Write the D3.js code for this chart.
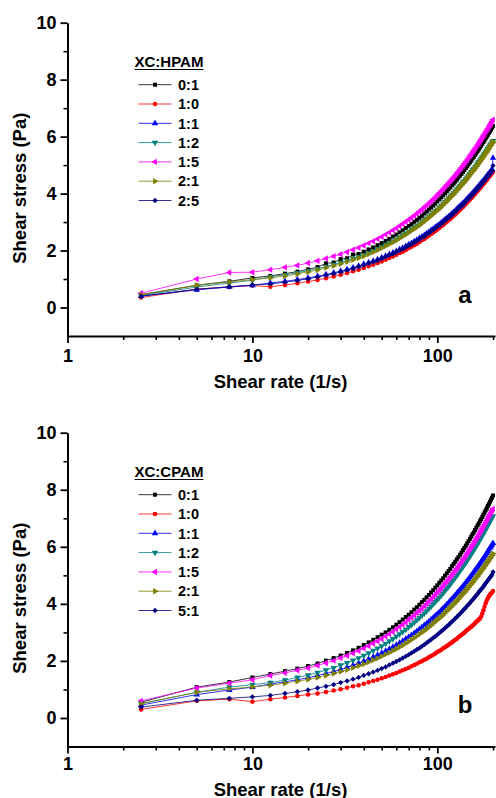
<!DOCTYPE html>
<html>
<head>
<meta charset="utf-8">
<script src="https://cdn.jsdelivr.net/npm/d3@7"></script>
<style>
  body { margin: 0; background: #fff; }
  svg text { font-family: "Liberation Sans", Arial, Helvetica, sans-serif; font-weight: bold; fill: #000; }
</style>
</head>
<body>
<svg id="chart"></svg>
<script>
// shear rate (1/s), same for every series
const shearRate = [2.5,5,7.5,10,12.5,15,17.5,20,22.5,25,27.5,30,32.5,35,37.5,40,42.5,45,47.5,50,
  52.5,55,57.5,60,62.5,65,67.5,70,72.5,75,77.5,80,82.5,85,87.5,90,92.5,95,97.5,100,
  102.5,105,107.5,110,112.5,115,117.5,120,122.5,125,127.5,130,132.5,135,137.5,140,142.5,145,147.5,150,
  152.5,155,157.5,160,162.5,165,167.5,170,172.5,175,177.5,180,182.5,185,187.5,190,192.5,195,197.5,200];

// panel a: XC:HPAM, shear stress (Pa)
const hpam_01 = [0.45,0.78,0.92,1.04, 1.11,1.19,1.26,1.34,1.42,1.55,1.58,1.70,1.73,1.86, 1.88,1.96,2.04,2.11,2.19,2.26,2.34,2.41,2.49,2.56,
  2.64,2.71,2.79,2.86,2.93,3.01,3.08,3.15,3.22,3.30, 3.37,3.44,3.51,3.58,3.65,3.73,3.80,3.87,3.94,4.01,
  4.08,4.15,4.22,4.29,4.35,4.42,4.49,4.56,4.63,4.69, 4.76,4.83,4.90,4.96,5.03,5.10,5.16,5.23,5.29,5.36,
  5.42,5.49,5.55,5.62,5.68,5.75,5.81,5.87,5.94,6.00, 6.06,6.13,6.19,6.25,6.31,6.37];
const hpam_10 = [0.35,0.65,0.72,0.77, 0.73,0.79,0.85,0.91,0.97,1.03,1.09,1.15,1.21,1.27, 1.33,1.39,1.45,1.50,1.56,1.62,1.68,1.74,1.79,1.85,
  1.91,1.96,2.02,2.08,2.13,2.19,2.24,2.30,2.36,2.41, 2.47,2.52,2.58,2.63,2.69,2.74,2.79,2.85,2.90,2.96,
  3.01,3.06,3.11,3.17,3.22,3.27,3.33,3.38,3.43,3.48, 3.53,3.58,3.64,3.69,3.74,3.79,3.84,3.89,3.94,3.99,
  4.04,4.09,4.14,4.19,4.24,4.29,4.34,4.38,4.43,4.48, 4.53,4.58,4.62,4.67,4.72,4.77];
const hpam_11 = [0.40,0.62,0.72,0.78, 0.86,0.92,0.98,1.04,1.10,1.16,1.22,1.28,1.34,1.40, 1.46,1.52,1.58,1.63,1.69,1.75,1.81,1.87,1.92,1.98,
  2.04,2.09,2.15,2.21,2.26,2.32,2.37,2.43,2.49,2.54, 2.60,2.65,2.71,2.76,2.82,2.87,2.92,2.98,3.03,3.09,
  3.14,3.19,3.24,3.30,3.35,3.40,3.46,3.51,3.56,3.61, 3.66,3.71,3.77,3.82,3.87,3.92,3.97,4.02,4.07,4.12,
  4.17,4.22,4.27,4.32,4.37,4.42,4.47,4.51,4.56,4.61, 4.66,4.71,4.75,4.80,4.85,5.25];
const hpam_12 = [0.42,0.72,0.86,0.96, 1.08,1.15,1.22,1.29,1.36,1.44,1.51,1.58,1.65,1.72, 1.78,1.85,1.92,1.99,2.06,2.13,2.20,2.27,2.33,2.40,
  2.47,2.54,2.60,2.67,2.74,2.80,2.87,2.93,3.00,3.07, 3.13,3.20,3.26,3.33,3.39,3.45,3.52,3.58,3.65,3.71,
  3.77,3.84,3.90,3.96,4.02,4.09,4.15,4.21,4.27,4.33, 4.39,4.45,4.51,4.57,4.64,4.70,4.76,4.82,4.87,4.93,
  4.99,5.05,5.11,5.17,5.23,5.28,5.34,5.40,5.46,5.51, 5.57,5.63,5.69,5.74,5.80,5.85];
const hpam_15 = [0.50,1.00,1.23,1.24, 1.33,1.41,1.48,1.56,1.64,1.72,1.80,1.87,1.95,2.03, 2.10,2.18,2.26,2.33,2.41,2.48,2.56,2.63,2.71,2.78,
  2.86,2.93,3.01,3.08,3.15,3.23,3.30,3.37,3.44,3.52, 3.59,3.66,3.73,3.80,3.87,3.95,4.02,4.09,4.16,4.23,
  4.30,4.37,4.44,4.51,4.57,4.64,4.71,4.78,4.85,4.91, 4.98,5.05,5.12,5.18,5.25,5.32,5.38,5.45,5.51,5.58,
  5.64,5.71,5.77,5.84,5.90,5.97,6.03,6.09,6.16,6.22, 6.28,6.35,6.41,6.47,6.53,6.59];
const hpam_21 = [0.45,0.78,0.90,0.98, 1.04,1.11,1.18,1.25,1.32,1.40,1.47,1.54,1.61,1.68, 1.74,1.81,1.88,1.95,2.02,2.09,2.16,2.23,2.29,2.36,
  2.43,2.50,2.56,2.63,2.70,2.76,2.83,2.89,2.96,3.03, 3.09,3.16,3.22,3.29,3.35,3.41,3.48,3.54,3.61,3.67,
  3.73,3.80,3.86,3.92,3.98,4.05,4.11,4.17,4.23,4.29, 4.35,4.41,4.47,4.53,4.60,4.66,4.72,4.78,4.83,4.89,
  4.95,5.01,5.07,5.13,5.19,5.24,5.30,5.36,5.42,5.47, 5.53,5.59,5.65,5.70,5.76,5.81];
const hpam_25 = [0.40,0.64,0.73,0.79, 0.83,0.89,0.95,1.01,1.07,1.13,1.19,1.25,1.31,1.37, 1.43,1.49,1.55,1.60,1.66,1.72,1.78,1.84,1.89,1.95,
  2.01,2.06,2.12,2.18,2.23,2.29,2.34,2.40,2.46,2.51, 2.57,2.62,2.68,2.73,2.79,2.84,2.89,2.95,3.00,3.06,
  3.11,3.16,3.21,3.27,3.32,3.37,3.43,3.48,3.53,3.58, 3.63,3.68,3.74,3.79,3.84,3.89,3.94,3.99,4.04,4.09,
  4.14,4.19,4.24,4.29,4.34,4.39,4.44,4.48,4.53,4.58, 4.63,4.68,4.72,4.77,4.82,4.98];

// panel b: XC:CPAM, shear stress (Pa)
const cpam_01 = [0.55,1.08,1.26,1.42, 1.54,1.64,1.73,1.82,1.91,2.01,2.10,2.19,2.28,2.37, 2.46,2.56,2.65,2.74,2.83,2.92,3.00,3.09,3.18,3.27,
  3.36,3.45,3.54,3.62,3.71,3.80,3.88,3.97,4.06,4.14, 4.23,4.31,4.40,4.48,4.57,4.65,4.74,4.82,4.90,4.99,
  5.07,5.15,5.23,5.32,5.40,5.48,5.56,5.64,5.72,5.80, 5.88,5.96,6.04,6.12,6.20,6.28,6.36,6.44,6.51,6.59,
  6.67,6.75,6.82,6.90,6.97,7.05,7.13,7.20,7.28,7.35, 7.43,7.50,7.58,7.65,7.72,7.80];
const cpam_10 = [0.30,0.60,0.66,0.57, 0.66,0.72,0.77,0.82,0.86,0.91,0.96,1.01,1.06,1.11, 1.15,1.20,1.25,1.30,1.34,1.39,1.44,1.49,1.53,1.58,
  1.63,1.67,1.72,1.76,1.81,1.86,1.90,1.95,1.99,2.04, 2.08,2.13,2.17,2.22,2.26,2.31,2.35,2.39,2.44,2.48,
  2.52,2.57,2.61,2.65,2.70,2.74,2.78,2.83,2.87,2.91, 2.95,2.99,3.04,3.08,3.12,3.16,3.20,3.24,3.28,3.33,
  3.37,3.41,3.45,3.49,3.56,3.66,3.78,3.90,4.02,4.12, 4.20,4.27,4.32,4.36,4.40,4.45];
const cpam_11 = [0.45,0.82,0.98,1.08, 1.19,1.27,1.34,1.41,1.49,1.56,1.63,1.70,1.78,1.85, 1.92,1.99,2.06,2.14,2.21,2.28,2.35,2.42,2.49,2.56,
  2.63,2.70,2.77,2.84,2.90,2.97,3.04,3.11,3.18,3.25, 3.31,3.38,3.45,3.51,3.58,3.65,3.71,3.78,3.85,3.91,
  3.98,4.04,4.11,4.17,4.24,4.30,4.37,4.43,4.49,4.56, 4.62,4.68,4.75,4.81,4.87,4.93,4.99,5.06,5.12,5.18,
  5.24,5.30,5.36,5.42,5.48,5.54,5.60,5.66,5.72,5.78, 5.84,5.90,5.96,6.01,6.07,6.13];
const cpam_12 = [0.50,0.90,1.08,1.17, 1.24,1.33,1.42,1.50,1.59,1.68,1.76,1.85,1.93,2.02, 2.10,2.19,2.27,2.36,2.44,2.52,2.61,2.69,2.77,2.86,
  2.94,3.02,3.10,3.19,3.27,3.35,3.43,3.51,3.59,3.67, 3.75,3.83,3.91,3.99,4.07,4.15,4.22,4.30,4.38,4.46,
  4.54,4.61,4.69,4.77,4.84,4.92,4.99,5.07,5.15,5.22, 5.30,5.37,5.44,5.52,5.59,5.67,5.74,5.81,5.89,5.96,
  6.03,6.10,6.17,6.25,6.32,6.39,6.46,6.53,6.60,6.67, 6.74,6.81,6.88,6.95,7.02,7.08];
const cpam_15 = [0.60,1.05,1.22,1.34, 1.49,1.58,1.67,1.75,1.84,1.93,2.01,2.10,2.18,2.27, 2.35,2.44,2.52,2.61,2.69,2.77,2.86,2.94,3.02,3.11,
  3.19,3.27,3.35,3.44,3.52,3.60,3.68,3.76,3.84,3.92, 4.00,4.08,4.16,4.24,4.32,4.40,4.47,4.55,4.63,4.71,
  4.79,4.86,4.94,5.02,5.09,5.17,5.24,5.32,5.40,5.47, 5.55,5.62,5.69,5.77,5.84,5.92,5.99,6.06,6.14,6.21,
  6.28,6.35,6.42,6.50,6.57,6.64,6.71,6.78,6.85,6.92, 6.99,7.06,7.13,7.20,7.27,7.33];
const cpam_21 = [0.50,0.90,1.02,1.09, 1.15,1.22,1.29,1.35,1.42,1.49,1.56,1.63,1.69,1.76, 1.83,1.89,1.96,2.03,2.09,2.16,2.23,2.29,2.36,2.42,
  2.49,2.55,2.62,2.68,2.75,2.81,2.87,2.94,3.00,3.06, 3.13,3.19,3.25,3.32,3.38,3.44,3.50,3.56,3.62,3.69,
  3.75,3.81,3.87,3.93,3.99,4.05,4.11,4.17,4.23,4.29, 4.35,4.40,4.46,4.52,4.58,4.64,4.70,4.75,4.81,4.87,
  4.93,4.98,5.04,5.10,5.15,5.21,5.26,5.32,5.37,5.43, 5.48,5.54,5.59,5.65,5.70,5.76];
const cpam_51 = [0.38,0.62,0.69,0.74, 0.79,0.86,0.92,0.98,1.05,1.11,1.17,1.24,1.30,1.36, 1.42,1.49,1.55,1.61,1.67,1.73,1.79,1.86,1.92,1.98,
  2.04,2.10,2.16,2.22,2.28,2.34,2.40,2.45,2.51,2.57, 2.63,2.69,2.75,2.81,2.86,2.92,2.98,3.04,3.09,3.15,
  3.21,3.26,3.32,3.38,3.43,3.49,3.54,3.60,3.65,3.71, 3.76,3.82,3.87,3.93,3.98,4.03,4.09,4.14,4.19,4.25,
  4.30,4.35,4.41,4.46,4.51,4.56,4.61,4.67,4.72,4.77, 4.82,4.87,4.92,4.97,5.02,5.12];

const namesHPAM = ["0:1", "1:0", "1:1", "1:2", "1:5", "2:1", "2:5"];
const namesCPAM = ["0:1", "1:0", "1:1", "1:2", "1:5", "2:1", "5:1"];
const seriesColors = ["#000000", "#ff0000", "#0000ff", "#008080", "#ff00ff", "#808000", "#000080"];
const seriesMarkers = ["square", "circle", "up", "down", "left", "right", "diamond"];

const xMajor = [1, 10, 100];
const xMinor = [2, 3, 4, 5, 6, 7, 8, 9, 20, 30, 40, 50, 60, 70, 80, 90, 200];
const yMajor = [0, 2, 4, 6, 8, 10];
const yMinor = [1, 3, 5, 7, 9];

const panels = [
    { top: 22.7, bottom: 336, title: "XC:HPAM", names: namesHPAM, tag: "a", tickBase: 26, titleBase: 52,
      values: [hpam_01, hpam_10, hpam_11, hpam_12, hpam_15, hpam_21, hpam_25] },
    { top: 432.7, bottom: 746.5, title: "XC:CPAM", names: namesCPAM, tag: "b", tickBase: 23, titleBase: 49,
      values: [cpam_01, cpam_10, cpam_11, cpam_12, cpam_15, cpam_21, cpam_51] }
];

const svg = d3.select("#chart")
    .attr("width", 496)
    .attr("height", 798);

const x = d3.scaleLog().domain([1, 205]).range([67.5, 495]);

const markerDefs = {
    square: [d3.symbolSquare, 0, 16],
    circle: [d3.symbolCircle, 0, 16],
    up: [d3.symbolTriangle, 0, 18],
    down: [d3.symbolTriangle, 180, 18],
    left: [d3.symbolTriangle, -90, 18],
    right: [d3.symbolTriangle, 90, 18],
    diamond: [d3.symbolSquare, 45, 14]
};

function marker(sel, type, color) {
    const [shape, rot, size] = markerDefs[type];
    sel.append("path")
        .attr("d", d3.symbol().type(shape).size(size)())
        .attr("transform", function () {
            return `${d3.select(this).attr("transform") || ""} rotate(${rot})`;
        })
        .attr("fill", color);
}

function styleAxis(g, width) {
    g.select(".domain").attr("stroke", "#000").attr("stroke-width", 2);
    g.selectAll(".tick line").attr("stroke", "#000").attr("stroke-width", width);
}

function drawPanel(p) {
    const y = d3.scaleLinear().domain([-1, 10]).range([p.bottom, p.top]);
    const g = svg.append("g");

    // series: thin line + a marker at every point
    const line = d3.line()
        .x(d => x(d[0]))
        .y(d => y(d[1]));

    p.values.forEach((vals, i) => {
        const pts = shearRate.map((s, j) => [s, vals[j]]);
        g.append("path")
            .datum(pts)
            .attr("fill", "none")
            .attr("stroke", seriesColors[i])
            .attr("stroke-width", 0.8)
            .attr("d", line);

        const [shape, rot, size] = markerDefs[seriesMarkers[i]];
        g.append("g").selectAll("path")
            .data(pts)
            .join("path")
            .attr("d", d3.symbol().type(shape).size(size)())
            .attr("transform", d => `translate(${x(d[0])},${y(d[1])}) rotate(${rot})`)
            .attr("fill", seriesColors[i]);
    });

    // x axis
    const xMin = g.append("g")
        .attr("transform", `translate(0,${p.bottom})`)
        .call(d3.axisBottom(x).tickValues(xMinor).tickSize(4).tickSizeOuter(0).tickFormat(""));
    xMin.select(".domain").remove();
    styleAxis(xMin, 1.6);

    const xAx = g.append("g")
        .attr("transform", `translate(0,${p.bottom})`)
        .call(d3.axisBottom(x).tickValues(xMajor).tickSize(7).tickSizeOuter(0).tickFormat(d3.format("d")));
    styleAxis(xAx, 1.8);
    xAx.selectAll(".tick text")
        .attr("y", p.tickBase)
        .attr("dy", null)
        .style("font-size", "18px");

    // y axis
    const yMin = g.append("g")
        .attr("transform", `translate(${x(1)},0)`)
        .call(d3.axisLeft(y).tickValues(yMinor).tickSize(4).tickSizeOuter(0).tickFormat(""));
    yMin.select(".domain").remove();
    styleAxis(yMin, 1.6);

    const yAx = g.append("g")
        .attr("transform", `translate(${x(1)},0)`)
        .call(d3.axisLeft(y).tickValues(yMajor).tickSize(7).tickSizeOuter(0).tickPadding(4));
    styleAxis(yAx, 1.8);
    yAx.selectAll(".tick text").style("font-size", "18px");

    g.append("text")
        .attr("x", 280.5)
        .attr("y", p.bottom + p.titleBase)
        .attr("text-anchor", "middle")
        .style("font-size", "18.5px")
        .text("Shear rate (1/s)");

    g.append("text")
        .attr("transform", `translate(26,${p.top + 165.5}) rotate(-90)`)
        .attr("text-anchor", "middle")
        .style("font-size", "18.5px")
        .text("Shear stress (Pa)");

    // legend
    const lg = g.append("g").attr("transform", `translate(0,${p.top})`);
    const ttl = lg.append("text")
        .attr("x", 134.5)
        .attr("y", 44.3)
        .style("font-size", "15px")
        .text(p.title);
    const tw = ttl.node().getComputedTextLength();
    lg.append("line")
        .attr("x1", 134.5).attr("x2", 134.5 + tw)
        .attr("y1", 46.8).attr("y2", 46.8)
        .attr("stroke", "#000").attr("stroke-width", 1.2);

    p.names.forEach((name, i) => {
        const ry = 62 + i * 19.3;
        lg.append("line")
            .attr("x1", 138.5).attr("x2", 171.5)
            .attr("y1", ry).attr("y2", ry)
            .attr("stroke", seriesColors[i])
            .attr("stroke-width", 0.8);
        const [shape, rot, size] = markerDefs[seriesMarkers[i]];
        lg.append("path")
            .attr("d", d3.symbol().type(shape).size(size)())
            .attr("transform", `translate(155,${ry}) rotate(${rot})`)
            .attr("fill", seriesColors[i]);
        lg.append("text")
            .attr("x", 178)
            .attr("y", ry)
            .attr("dy", "0.36em")
            .style("font-size", "14.5px")
            .text(name);
    });

    g.append("text")
        .attr("x", 465)
        .attr("y", y(0.16))
        .attr("text-anchor", "middle")
        .style("font-size", "24px")
        .text(p.tag);
}

panels.forEach(drawPanel);
</script>
</body>
</html>
